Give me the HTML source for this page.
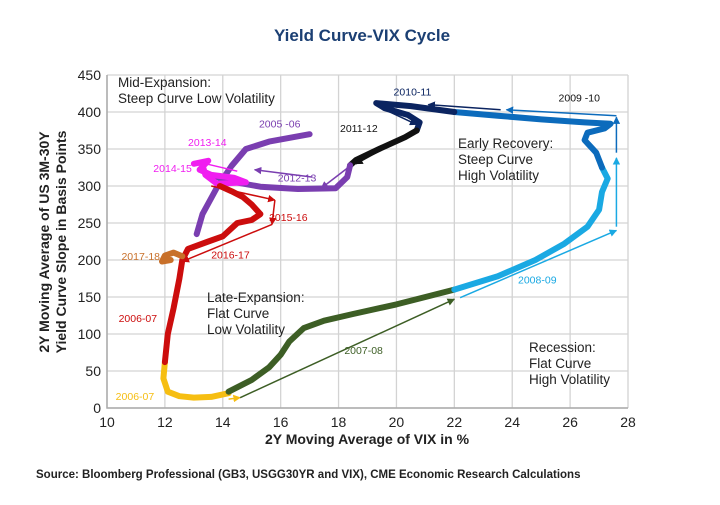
<!DOCTYPE html>
<html><head><meta charset="utf-8">
<style>
body{margin:0;background:#fff;width:720px;height:500px;overflow:hidden;font-family:"Liberation Sans",sans-serif}
svg text{font-family:"Liberation Sans",sans-serif}
</style></head>
<body>
<svg id="chart" width="720" height="500" viewBox="0 0 720 500">
<defs>
<marker id="ah" viewBox="0 0 10 10" refX="9" refY="5" markerWidth="5" markerHeight="5" orient="auto-start-reverse"><path d="M0,0L10,5L0,10z" fill="context-stroke"/></marker>
</defs>
<text x="362" y="41" text-anchor="middle" font-size="17" font-weight="bold" fill="#1b3f73">Yield Curve-VIX Cycle</text>
<g id="grid"></g>
<g id="series"></g>
<g id="arrows"></g>
<g id="labels"></g>
<text x="367" y="444" text-anchor="middle" font-size="14" font-weight="bold" fill="#222">2Y Moving Average of VIX in %</text>
<text transform="translate(49,242) rotate(-90)" text-anchor="middle" font-size="14" font-weight="bold" fill="#222"><tspan x="0" dy="0">2Y Moving Average of US 3M-30Y</tspan><tspan x="0" dy="17">Yield Curve Slope in Basis Points</tspan></text>
<text x="36" y="478" font-size="11.5" font-weight="bold" fill="#222">Source: Bloomberg Professional (GB3, USGG30YR and VIX), CME Economic Research Calculations</text>
<g font-size="13.5" fill="#222">
<text x="118" y="87"><tspan x="118">Mid-Expansion:</tspan><tspan x="118" dy="16">Steep Curve Low Volatility</tspan></text>
<text x="458" y="148"><tspan x="458">Early Recovery:</tspan><tspan x="458" dy="16">Steep Curve</tspan><tspan x="458" dy="16">High Volatility</tspan></text>
<text x="207" y="302"><tspan x="207">Late-Expansion:</tspan><tspan x="207" dy="16">Flat Curve</tspan><tspan x="207" dy="16">Low Volatility</tspan></text>
<text x="529" y="352"><tspan x="529">Recession:</tspan><tspan x="529" dy="16">Flat Curve</tspan><tspan x="529" dy="16">High Volatility</tspan></text>
</g>
</svg>
<script>
const xTicks=[10,12,14,16,18,20,22,24,26,28];
const yTicks=[0,50,100,150,200,250,300,350,400,450];
const serYellow=[[12,62],[11.95,40],[12.1,22],[12.5,16],[13,14],[13.6,15],[14.2,20]];
const serGreen=[[14.2,22],[15,38],[15.6,55],[16,72],[16.3,90],[16.8,108],[17.5,118],[18.5,127],[20,140],[21,150],[22,160]];
const serLightBlue=[[22,160],[23.5,178],[24.8,200],[25.8,222],[26.6,245],[27,268],[27.1,292],[27.3,310],[27.1,325]];
const serMidBlue=[[27.1,325],[26.9,345],[26.5,362],[26.6,372],[27.2,378],[27.4,384],[26.5,386],[25,390],[23.5,395],[22,400]];
const serNavy=[[22,400],[20.5,408],[19.3,412],[19.6,405],[20.4,396],[20.8,386],[20.7,375]];
const serBlack=[[20.7,375],[20.3,366],[19.4,350],[18.6,335],[18.4,328]];
const serPurple1=[[18.4,328],[18.3,312],[17.9,297],[16.6,296],[15.3,299],[14.3,306],[13.5,316]];
const serPurple2=[[13.1,235],[13.3,262],[13.8,298],[14.3,327],[14.8,350],[15.6,360],[17,370]];
const serMagenta=[[13,330],[13.5,334],[13.2,322],[13.6,315],[14.4,311],[14.8,305],[13.8,303],[13.4,315],[13.3,328]];
const serRed=[[12,62],[12.1,100],[12.3,135],[12.5,175],[12.6,200],[12.8,215],[13.5,225],[14,232],[14.5,250],[15,254],[15.3,262],[15,275],[14.7,285],[14.3,293],[13.9,300]];
const serOrange=[[12.2,200],[11.9,198],[12,206],[12.3,210],[12.6,205]];
const seriesList=[[serYellow,'#f6be12','yellow-2006-07'],[serGreen,'#3d5e25','green-2007-08'],[serLightBlue,'#1aa9e3','lightblue-2008-09'],[serMidBlue,'#0c6bbc','midblue-2009-10'],[serNavy,'#0b2460','navy-2010-11'],[serBlack,'#111111','black-2011-12'],[serPurple1,'#7a3eb0','purple-2012-13'],[serPurple2,'#7a3eb0','purple-2005-06'],[serMagenta,'#f01ef0','magenta-2013-15'],[serRed,'#cc0d0d','red-2006-07-2016-17'],[serOrange,'#c8702a','orange-2017-18']];
const arrowList=[[[14.2,12],[14.6,14],'#f6be12'],[[14.6,14],[22,147],'#3d5e25'],[[22.2,149],[27.6,240],'#1aa9e3'],[[27.6,245],[27.6,338],'#1aa9e3'],[[27.6,345],[27.6,393],'#0c6bbc'],[[27.6,395],[23.8,403],'#0c6bbc'],[[23.6,403],[21.1,410],'#0b2460'],[[20.6,410],[19.4,410],'#0b2460'],[[19.5,405],[20.7,383],'#0b2460'],[[20.7,375],[18.6,330],'#111'],[[18.4,327],[17.4,297],'#7a3eb0'],[[17.1,312],[15.1,322],'#7a3eb0'],[[14.5,320],[13.2,332],'#f01ef0'],[[13.6,300],[15.8,281],'#cc0d0d'],[[15.8,281],[15.7,248],'#cc0d0d'],[[15.7,248],[12.6,198],'#cc0d0d']];
const labelList=[['2005 -06',15.25,379,'#7a3eb0'],['2011-12',18.05,373,'#111'],['2010-11',19.9,422,'#0b2460'],['2009 -10',25.6,414,'#111'],['2013-14',12.8,354,'#f01ef0'],['2014-15',11.6,319,'#f01ef0'],['2012-13',15.9,306,'#7a3eb0'],['2015-16',15.6,253,'#cc0d0d'],['2016-17',13.6,202,'#cc0d0d'],['2017-18',10.5,200,'#c8702a'],['2006-07',10.4,116,'#cc0d0d'],['2006-07',10.3,11,'#f6be12'],['2007-08',18.2,73,'#3d5e25'],['2008-09',24.2,168,'#1aa9e3']];
const L=107,R=628,T=75,B=408;
const xs=v=>L+(v-10)/18*(R-L);
const ys=v=>B-v/450*(B-T);
const NS='http://www.w3.org/2000/svg';
function mk(tag,attrs,parent){const e=document.createElementNS(NS,tag);for(const k in attrs)e.setAttribute(k,attrs[k]);parent.appendChild(e);return e;}
const grid=document.getElementById('grid');
xTicks.forEach(t=>{
 const l=mk('line',{x1:xs(t),x2:xs(t),y1:T,y2:B,stroke:'#d3d3d3','stroke-width':1.3},grid);
 
 
 const tx=mk('text',{x:xs(t),y:B+19,'text-anchor':'middle','font-size':14,fill:'#222'},grid);
 tx.textContent=t;
 
 
});
yTicks.forEach(t=>{
 const l=mk('line',{x1:L,x2:R,y1:ys(t),y2:ys(t),stroke:'#d3d3d3','stroke-width':1.3},grid);
 
 
 const tx=mk('text',{x:L-6,y:ys(t)+5,'text-anchor':'end','font-size':14,fill:'#222'},grid);
 tx.textContent=t;
 
 
});
const ax=mk('path',{d:`M${L},${T}V${B}H${R}`,stroke:'#aaa','stroke-width':1.5,fill:'none'},grid);


const sg=document.getElementById('series');
seriesList.forEach(s=>{
 const d=s[0].map((p,i)=>(i?'L':'M')+xs(p[0]).toFixed(1)+','+ys(p[1]).toFixed(1)).join('');
 const p=mk('path',{d:d,stroke:s[1],'stroke-width':6,fill:'none','stroke-linejoin':'round','stroke-linecap':'round'},sg);
 
 
});
const ag=document.getElementById('arrows');
arrowList.forEach(a=>{
 const l=mk('line',{x1:xs(a[0][0]),y1:ys(a[0][1]),x2:xs(a[1][0]),y2:ys(a[1][1]),stroke:a[2],'stroke-width':1.5,'marker-end':'url(#ah)'},ag);
 
 
});
const lg=document.getElementById('labels');
labelList.forEach(t=>{
 const e=mk('text',{x:xs(t[1]),y:ys(t[2]),'font-size':10.5,fill:t[3]},lg);
 e.textContent=t[0];
 
 
});
</script>
</body></html>
